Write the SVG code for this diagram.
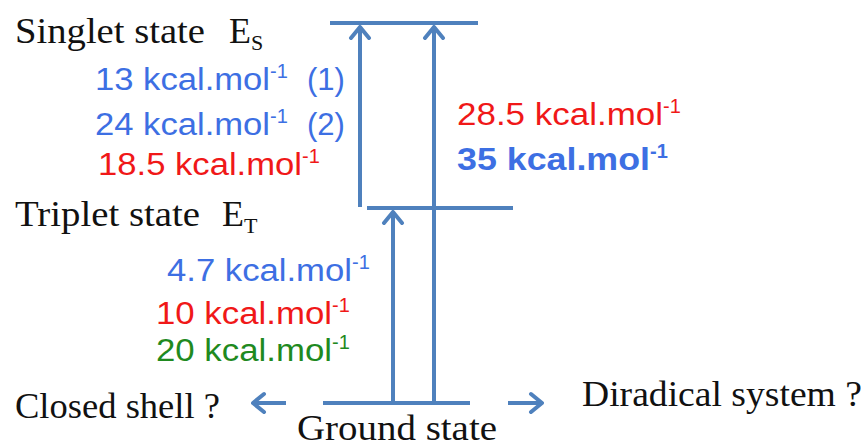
<svg xmlns="http://www.w3.org/2000/svg" width="865" height="448" viewBox="0 0 865 448">
<style>
.lvl{stroke:#4f81bd;stroke-width:4;fill:none}
.con{stroke:#4f81bd;stroke-width:4;fill:none}
.blk{font-family:"Liberation Serif",serif;font-size:36px;fill:#111}
.sub{font-size:22px}
.val{font-family:"Liberation Sans",sans-serif;font-size:31px}
.sup{font-size:20px}
.b{fill:#3d6fe3}
.r{fill:#f01818}
.g{fill:#1f8a1f}
</style>
<defs>
<marker id="ah" viewBox="-16 -12 18 24" markerWidth="18" markerHeight="24" refX="0" refY="0" orient="auto" markerUnits="userSpaceOnUse">
<path d="M-11,-9 L0,0 L-11,9" stroke="#4f81bd" stroke-width="4" fill="none" stroke-linecap="round" stroke-linejoin="round"/>
</marker>
</defs>
<rect width="865" height="448" fill="#fff"/>

<g id="singlet">
<line class="lvl" x1="330" y1="23" x2="478" y2="23"/>
<text class="blk" x="15" y="43" textLength="190" lengthAdjust="spacingAndGlyphs">Singlet state</text>
<text class="blk" x="229" y="43">E<tspan class="sub" dy="7">S</tspan></text>
</g>

<g id="triplet">
<line class="lvl" x1="367" y1="208" x2="513" y2="208"/>
<text class="blk" x="15" y="226" textLength="185" lengthAdjust="spacingAndGlyphs">Triplet state</text>
<text class="blk" x="222" y="226">E<tspan class="sub" dy="7">T</tspan></text>
</g>

<g id="ground">
<line class="lvl" x1="323" y1="403" x2="470" y2="403"/>
<text class="blk" x="297" y="440" font-size="34" textLength="200" lengthAdjust="spacingAndGlyphs">Ground state</text>
</g>

<g id="closed-shell">
<text class="blk" x="15" y="418" textLength="205" lengthAdjust="spacingAndGlyphs">Closed shell ?</text>
</g>

<g id="diradical">
<text class="blk" x="582" y="406" textLength="280" lengthAdjust="spacingAndGlyphs">Diradical system ?</text>
</g>

<g id="labels-singlet-triplet">
<text class="val b" x="95" y="90"><tspan textLength="175" lengthAdjust="spacingAndGlyphs">13 kcal.mol</tspan><tspan class="sup" dy="-12">-1</tspan><tspan dy="12" x="307">(1)</tspan></text>
<text class="val b" x="95" y="135"><tspan textLength="175" lengthAdjust="spacingAndGlyphs">24 kcal.mol</tspan><tspan class="sup" dy="-12">-1</tspan><tspan dy="12" x="307">(2)</tspan></text>
<text class="val r" x="98" y="175"><tspan textLength="204" lengthAdjust="spacingAndGlyphs">18.5 kcal.mol</tspan><tspan class="sup" dy="-12">-1</tspan></text>
</g>

<g id="labels-singlet-ground">
<text class="val r" x="457" y="125"><tspan textLength="206" lengthAdjust="spacingAndGlyphs">28.5 kcal.mol</tspan><tspan class="sup" dy="-12">-1</tspan></text>
<text class="val b" x="457" y="170" font-weight="bold"><tspan textLength="193" lengthAdjust="spacingAndGlyphs">35 kcal.mol</tspan><tspan class="sup" dy="-12">-1</tspan></text>
</g>

<g id="labels-triplet-ground">
<text class="val b" x="167" y="281"><tspan textLength="185" lengthAdjust="spacingAndGlyphs">4.7 kcal.mol</tspan><tspan class="sup" dy="-12">-1</tspan></text>
<text class="val r" x="156" y="324"><tspan textLength="176" lengthAdjust="spacingAndGlyphs">10 kcal.mol</tspan><tspan class="sup" dy="-12">-1</tspan></text>
<text class="val g" x="156" y="361"><tspan textLength="176" lengthAdjust="spacingAndGlyphs">20 kcal.mol</tspan><tspan class="sup" dy="-12">-1</tspan></text>
</g>

<g id="connectors">
<line class="con" x1="360" y1="207" x2="360" y2="27" marker-end="url(#ah)"/>
<line class="con" x1="434" y1="403" x2="434" y2="27" marker-end="url(#ah)"/>
<line class="con" x1="393" y1="403" x2="393" y2="212" marker-end="url(#ah)"/>
<line class="con" x1="286" y1="403" x2="253" y2="403" marker-end="url(#ah)"/>
<line class="con" x1="508" y1="403" x2="542" y2="403" marker-end="url(#ah)"/>
</g>
</svg>
